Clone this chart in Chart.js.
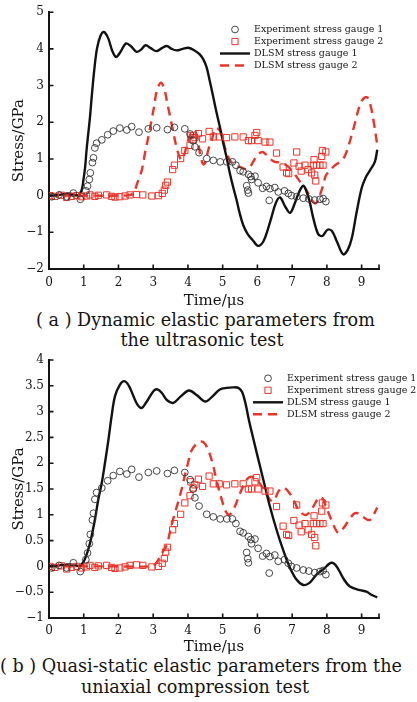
<!DOCTYPE html>
<html lang="en">
<head>
<meta charset="UTF-8">
<title>Stress histories at the two gauges</title>
<script src="https://cdn.jsdelivr.net/npm/chart.js"></script>
<style>
    body { margin: 0; background: #fff; }
    .page {
        position: relative;
        width: 417px;
        height: 702px;
        overflow: hidden;
        font-family: "DejaVu Serif", serif;
        color: #141414;
    }
    .plot { position: absolute; left: 0; }
    .caption {
        position: absolute;
        left: 0;
        text-align: center;
        font-size: 17.6px;
        line-height: 20px;
        white-space: nowrap;
    }
</style>
</head>
<body>
<div class="page">
    <canvas id="chartA" class="plot" width="417" height="310" style="top:0"></canvas>
    <div class="caption" style="top:310px; width:411px">( a ) Dynamic elastic parameters from</div>
    <div class="caption" style="top:330px; width:404px">the ultrasonic test</div>

    <canvas id="chartB" class="plot" width="417" height="316" style="top:340px"></canvas>
    <div class="caption" style="top:656px; width:400px">( b ) Quasi-static elastic parameters from the</div>
    <div class="caption" style="top:677px; width:390px">uniaxial compression test</div>
</div>

<script>
// legend labels, same for both panels
const seriesLabels = ['Experiment stress gauge 1', 'Experiment stress gauge 2', 'DLSM stress gauge 1', 'DLSM stress gauge 2'];

const xTicks = [0, 1, 2, 3, 4, 5, 6, 7, 8, 9];
const yTicksA = [-2, -1, 0, 1, 2, 3, 4, 5];
const yTicksB = [-1, -0.5, 0, 0.5, 1, 1.5, 2, 2.5, 3, 3.5, 4];

// measured points, [time in us, stress in GPa] - shared by both panels
const expGauge1 = [
    [0.08, -0.03], [0.29, 0.02], [0.51, -0.03], [0.70, 0.07], [0.90, -0.10], [1.06, 0.13], [1.11, 0.26],
    [1.16, 0.44], [1.19, 0.62], [1.25, 0.90], [1.28, 1.03], [1.32, 1.30], [1.37, 1.43], [1.52, 1.52],
    [1.69, 1.66], [1.85, 1.76], [2.04, 1.84], [2.24, 1.79], [2.38, 1.88], [2.59, 1.73], [2.86, 1.82],
    [3.10, 1.85], [3.41, 1.80], [3.61, 1.86], [3.91, 1.82], [4.06, 1.68], [4.15, 1.50], [4.20, 1.33],
    [4.32, 1.17], [4.54, 1.01], [4.73, 0.96], [4.93, 0.92], [5.12, 0.92], [5.28, 0.92], [5.38, 0.83],
    [5.50, 0.68], [5.59, 0.65], [5.69, 0.27], [5.74, 0.58], [5.72, 0.15], [5.74, 0.07], [5.81, 0.52],
    [5.83, 0.44], [5.93, 0.53], [6.02, 0.35], [6.15, 0.20], [6.26, 0.25], [6.34, -0.13], [6.36, 0.19],
    [6.50, 0.22], [6.60, 0.10], [6.78, 0.13], [6.89, 0.06], [6.98, 0.00], [7.13, -0.03], [7.32, -0.07],
    [7.48, -0.09], [7.65, -0.12], [7.80, -0.10], [7.89, -0.08], [7.97, -0.16]
];
const expGauge2 = [
    [0.03, 0.00], [0.17, -0.02], [0.36, 0.01], [0.51, -0.05], [0.65, -0.02], [0.80, 0.00], [0.94, -0.03],
    [1.08, -0.01], [1.18, 0.02], [1.32, -0.02], [1.42, 0.01], [1.66, 0.02], [1.80, -0.02], [1.90, -0.04],
    [2.04, -0.03], [2.19, -0.01], [2.33, 0.02], [2.52, 0.03], [2.70, 0.02], [2.96, -0.01], [3.15, 0.00],
    [3.26, 0.06], [3.32, 0.15], [3.36, 0.28], [3.41, 0.37], [3.56, 0.71], [3.61, 0.83], [3.79, 1.01],
    [3.91, 1.23], [4.06, 1.37], [4.08, 1.64], [4.15, 1.52], [4.20, 1.58], [4.30, 1.69], [4.42, 1.55],
    [4.61, 1.75], [4.73, 1.60], [4.90, 1.60], [5.11, 1.58], [5.35, 1.60], [5.59, 1.60], [5.74, 1.50],
    [5.83, 1.50], [5.93, 1.64], [5.98, 1.72], [6.02, 1.50], [6.22, 1.46], [6.36, 1.46], [6.55, 1.16],
    [6.74, 0.78], [6.84, 0.62], [6.90, 0.60], [7.05, 0.89], [7.13, 1.19], [7.20, 0.80], [7.26, 0.67],
    [7.37, 0.83], [7.46, 0.71], [7.56, 0.62], [7.61, 0.83], [7.63, 0.98], [7.65, 0.56], [7.68, 0.40],
    [7.70, 0.83], [7.80, 0.83], [7.85, 1.07], [7.87, 1.23], [7.89, 0.83], [7.97, 1.19]
];

// DLSM, dynamic elastic parameters (ultrasonic)
const dlsmA1 = [
    [0, 0], [0.3, 0.02], [0.55, 0.06], [0.7, 0.03], [0.84, 0.01], [0.94, 0.15], [0.99, 0.42], [1.04, 0.78],
    [1.08, 1.23], [1.13, 1.69], [1.18, 2.14], [1.23, 2.7], [1.3, 3.4], [1.38, 4.0], [1.48, 4.35], [1.58, 4.46],
    [1.7, 4.3], [1.82, 3.95], [1.93, 3.78], [2.06, 3.92], [2.22, 4.15], [2.38, 4.05], [2.52, 3.92], [2.65, 3.98],
    [2.78, 4.1], [2.93, 4.02], [3.09, 3.94], [3.25, 4.02], [3.39, 4.08], [3.53, 4.0], [3.67, 3.96], [3.85, 4.0],
    [4.01, 4.03], [4.2, 3.95], [4.34, 3.85], [4.45, 3.7], [4.54, 3.49], [4.63, 3.12], [4.73, 2.68], [4.82, 2.28],
    [4.92, 1.87], [5.01, 1.46], [5.11, 1.05], [5.2, 0.64], [5.3, 0.24], [5.4, -0.12], [5.49, -0.48], [5.59, -0.8],
    [5.72, -1.05], [5.87, -1.22], [6.02, -1.37], [6.17, -1.25], [6.3, -0.92], [6.41, -0.57], [6.53, -0.2],
    [6.65, -0.05], [6.8, -0.3], [6.94, -0.47], [7.08, -0.2], [7.2, 0.1], [7.32, 0.27], [7.41, 0.12], [7.5, -0.15],
    [7.61, -0.62], [7.75, -1.05], [7.87, -1.1], [8.02, -0.93], [8.15, -0.97], [8.3, -1.28], [8.47, -1.6],
    [8.6, -1.48], [8.72, -1.15], [8.85, -0.48], [9.0, 0.2], [9.12, 0.5], [9.24, 0.69], [9.38, 0.92], [9.45, 1.25]
];
const dlsmA2 = [
    [0, 0], [1.0, 0], [2.0, 0], [2.35, 0.02], [2.45, 0.1], [2.52, 0.28], [2.6, 0.5], [2.67, 0.69], [2.76, 1.14],
    [2.86, 1.6], [2.95, 2.05], [3.03, 2.45], [3.1, 2.85], [3.22, 3.08], [3.32, 2.9], [3.41, 2.5], [3.48, 2.18],
    [3.58, 1.73], [3.67, 1.32], [3.76, 1.05], [3.82, 0.97], [3.9, 1.14], [3.99, 1.46], [4.1, 1.73], [4.2, 1.78],
    [4.3, 1.4], [4.38, 1.0], [4.45, 0.85], [4.52, 0.95], [4.58, 1.23], [4.68, 1.5], [4.8, 1.84], [4.92, 1.77],
    [5.02, 1.46], [5.12, 1.15], [5.21, 0.96], [5.35, 0.82], [5.5, 0.78], [5.69, 0.72], [5.8, 0.8], [5.93, 1.01],
    [6.05, 1.15], [6.15, 1.19], [6.25, 1.12], [6.36, 1.01], [6.5, 0.92], [6.65, 0.9], [6.84, 0.82], [7.0, 0.68],
    [7.13, 0.51], [7.25, 0.35], [7.37, 0.22], [7.5, 0.0], [7.65, -0.21], [7.74, -0.14], [7.8, 0.01], [7.89, 0.28],
    [7.97, 0.55], [8.08, 0.68], [8.2, 0.8], [8.37, 0.92], [8.5, 1.05], [8.61, 1.32], [8.71, 1.64], [8.8, 1.95],
    [8.9, 2.32], [9.0, 2.58], [9.1, 2.68], [9.18, 2.66], [9.27, 2.4], [9.35, 2.0], [9.45, 1.38]
];

// DLSM, quasi-static elastic parameters (uniaxial compression)
const dlsmB1 = [
    [0, 0], [0.3, 0.02], [0.55, 0.04], [0.7, 0.03], [0.85, 0.01], [0.95, 0.05], [1.04, 0.15], [1.18, 0.45],
    [1.32, 0.9], [1.42, 1.3], [1.52, 1.62], [1.61, 2.0], [1.71, 2.45], [1.8, 2.9], [1.9, 3.3], [2.04, 3.52],
    [2.17, 3.59], [2.3, 3.5], [2.43, 3.3], [2.55, 3.13], [2.67, 3.07], [2.8, 3.18], [2.91, 3.3], [3.03, 3.41],
    [3.12, 3.43], [3.25, 3.36], [3.4, 3.22], [3.58, 3.17], [3.8, 3.3], [4.03, 3.41], [4.25, 3.32], [4.44, 3.21],
    [4.54, 3.2], [4.73, 3.31], [4.92, 3.43], [5.11, 3.46], [5.3, 3.47], [5.45, 3.46], [5.56, 3.38], [5.66, 3.15],
    [5.75, 2.85], [5.83, 2.62], [5.98, 2.2], [6.17, 1.68], [6.36, 1.16], [6.55, 0.71], [6.74, 0.32], [6.94, -0.03],
    [7.13, -0.26], [7.32, -0.36], [7.5, -0.32], [7.7, -0.16], [7.89, -0.06], [8.13, 0.07], [8.28, 0.0],
    [8.47, -0.23], [8.66, -0.39], [8.95, -0.46], [9.14, -0.49], [9.28, -0.55], [9.45, -0.6]
];
const dlsmB2 = [
    [0, 0], [1.0, 0], [2.0, 0], [2.9, 0.0], [3.05, 0.04], [3.15, 0.13], [3.29, 0.3], [3.39, 0.42], [3.5, 0.72],
    [3.6, 0.98], [3.72, 1.25], [3.82, 1.5], [3.91, 1.76], [4.0, 2.0], [4.1, 2.24], [4.25, 2.38], [4.38, 2.42],
    [4.49, 2.38], [4.63, 2.17], [4.73, 1.94], [4.82, 1.68], [4.97, 1.3], [5.1, 1.05], [5.2, 1.0], [5.35, 1.16],
    [5.5, 1.42], [5.69, 1.68], [5.83, 1.74], [6.02, 1.65], [6.22, 1.45], [6.41, 1.26], [6.5, 1.3], [6.6, 1.45],
    [6.74, 1.53], [6.9, 1.44], [7.08, 1.23], [7.22, 1.06], [7.41, 1.0], [7.61, 1.16], [7.75, 1.32], [7.85, 1.34],
    [7.98, 1.15], [8.13, 0.9], [8.32, 0.65], [8.45, 0.72], [8.61, 0.87], [8.78, 1.02], [8.9, 1.03], [9.04, 0.96],
    [9.24, 0.9], [9.45, 1.14]
];

const INK = '#141414';
const RED = '#ec3328';
const SERIF = '"DejaVu Serif", serif';

Chart.defaults.font.family = SERIF;
Chart.defaults.color = INK;

const toXY = pts => pts.map(([x, y]) => ({ x, y }));
const fmt = v => (v < 0 ? '\u2212' + Math.abs(v) : String(v));

// short tick marks pointing into the plot, plus one at the end of the time axis
const inwardTicks = {
    id: 'inwardTicks',
    afterDraw(chart) {
        const { ctx, chartArea: a, scales: { x, y } } = chart;
        const len = 4.5;
        ctx.save();
        ctx.strokeStyle = INK;
        ctx.lineWidth = 1.6;
        ctx.beginPath();
        x.ticks.map(t => t.value).concat(x.max).forEach(v => {
            const px = x.getPixelForValue(v);
            ctx.moveTo(px, a.bottom);
            ctx.lineTo(px, a.bottom - len);
        });
        y.ticks.forEach(t => {
            const py = y.getPixelForValue(t.value);
            ctx.moveTo(a.left, py);
            ctx.lineTo(a.left + len, py);
        });
        ctx.stroke();
        ctx.restore();
    }
};

// legend drawn from the dataset styles
const gaugeLegend = {
    id: 'gaugeLegend',
    afterDraw(chart, args, opts) {
        const { ctx } = chart;
        ctx.save();
        ctx.font = '9.5px ' + SERIF;
        ctx.textBaseline = 'middle';
        ctx.fillStyle = INK;
        chart.data.datasets.forEach((ds, i) => {
            const y = opts.top + i * opts.rowGap;
            const cx = opts.symbolX;
            ctx.strokeStyle = ds.borderColor;
            ctx.lineWidth = ds.borderWidth;
            ctx.setLineDash(ds.showLine ? (ds.borderDash || []) : []);
            ctx.beginPath();
            if (ds.showLine) {
                ctx.moveTo(cx - 15, y);
                ctx.lineTo(cx + 15, y);
            } else if (ds.pointStyle === 'rect') {
                const h = ds.pointRadius * Math.SQRT1_2;
                ctx.rect(cx - h, y - h, 2 * h, 2 * h);
            } else {
                ctx.arc(cx, y, ds.pointRadius, 0, Math.PI * 2);
            }
            ctx.stroke();
            ctx.setLineDash([]);
            ctx.fillText(ds.label, opts.textX, y);
        });
        ctx.restore();
    }
};

function buildDatasets(line1, line2) {
    return [
        {
            label: seriesLabels[0], data: toXY(expGauge1), showLine: false,
            pointStyle: 'circle', pointRadius: 3.4, borderColor: '#333333', borderWidth: 0.9,
            backgroundColor: 'transparent'
        },
        {
            label: seriesLabels[1], data: toXY(expGauge2), showLine: false,
            pointStyle: 'rect', pointRadius: 4.4, borderColor: RED, borderWidth: 1,
            backgroundColor: 'transparent'
        },
        {
            label: seriesLabels[2], data: toXY(line1), showLine: true, pointRadius: 0,
            borderColor: '#121212', borderWidth: 2.4, tension: 0.35
        },
        {
            label: seriesLabels[3], data: toXY(line2), showLine: true, pointRadius: 0,
            borderColor: RED, borderWidth: 2.4, borderDash: [9, 6], tension: 0.35
        }
    ];
}

function makePanel(id, p) {
    new Chart(document.getElementById(id), {
        type: 'scatter',
        data: { datasets: buildDatasets(p.line1, p.line2) },
        options: {
            responsive: false,
            animation: false,
            layout: { padding: { top: p.padTop, right: 38, left: 0, bottom: 0 } },
            plugins: {
                legend: { display: false },
                tooltip: { enabled: false },
                gaugeLegend: p.legend
            },
            scales: {
                x: {
                    type: 'linear', min: 0, max: 9.5,
                    afterBuildTicks: s => { s.ticks = xTicks.map(v => ({ value: v })); },
                    afterFit: s => { s.height = p.xAxisHeight; },
                    grid: { display: false, drawTicks: false },
                    border: { display: true, color: INK, width: 2 },
                    ticks: { font: { size: 12 }, color: INK, padding: p.xTickPad, maxRotation: 0 },
                    title: {
                        display: true, text: 'Time/\u03bcs', color: INK,
                        font: { size: 15 }, padding: { top: 0, bottom: 0 }
                    }
                },
                y: {
                    type: 'linear', min: p.yTicks[0], max: p.yTicks[p.yTicks.length - 1],
                    afterBuildTicks: s => { s.ticks = p.yTicks.map(v => ({ value: v })); },
                    afterFit: s => { s.width = 49; },
                    grid: { display: false, drawTicks: false },
                    border: { display: true, color: INK, width: 2 },
                    ticks: { font: { size: 12 }, color: INK, padding: 5, callback: fmt },
                    title: {
                        display: true, text: 'Stress/GPa', color: INK,
                        font: { size: 15 }, padding: { top: 10, bottom: 0 }
                    }
                }
            }
        },
        plugins: [inwardTicks, gaugeLegend]
    });
}

makePanel('chartA', {
    line1: dlsmA1, line2: dlsmA2, yTicks: yTicksA,
    padTop: 11, xAxisHeight: 41, xTickPad: 7,
    legend: { top: 29.5, rowGap: 12, symbolX: 235, textX: 254 }
});

makePanel('chartB', {
    line1: dlsmB1, line2: dlsmB2, yTicks: yTicksB,
    padTop: 20, xAxisHeight: 38, xTickPad: 6,
    legend: { top: 38.3, rowGap: 12, symbolX: 268, textX: 287 }
});
</script>
</body>
</html>
